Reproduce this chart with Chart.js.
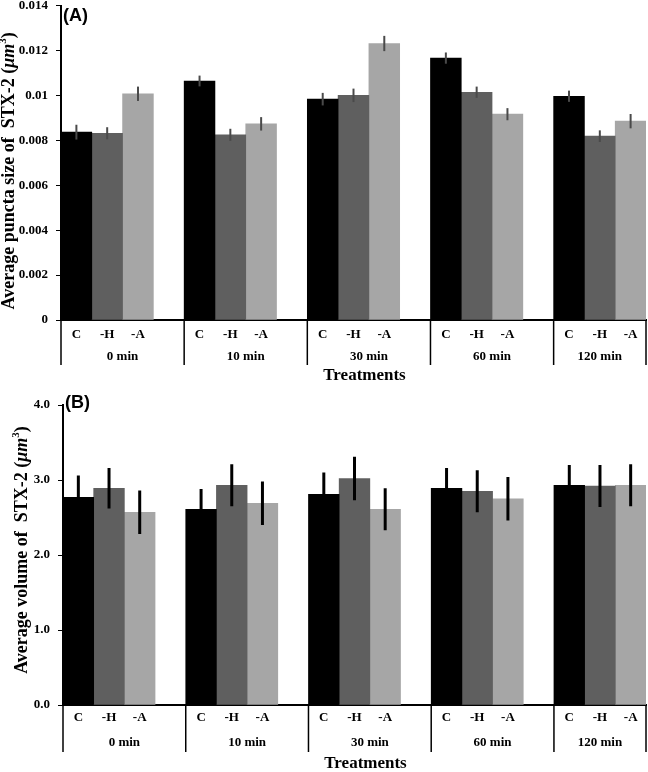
<!DOCTYPE html>
<html>
<head>
<meta charset="utf-8">
<script src="https://cdn.jsdelivr.net/npm/chart.js@4.4.1/dist/chart.umd.min.js"></script>
<style>
  body { margin: 0; background: #fff; overflow: hidden; }
  #wrap { position: relative; width: 648px; height: 772px; overflow: hidden; }
  canvas { position: absolute; left: 0; }
</style>
</head>
<body>
<div id="wrap">
  <canvas id="puncta_chart" style="top:-10px"></canvas>
  <canvas id="volume_chart" style="top:386px"></canvas>
</div>
<script>
// categories
const timePoints = ['0 min', '10 min', '30 min', '60 min', '120 min'];
const treatments = ['C', '-H', '-A'];
const barColors = ['#000000', '#5f5f5f', '#a6a6a6'];

// (A) average puncta size (um^3)
const sizeC = [0.00837, 0.01065, 0.00984, 0.01167, 0.00997];
const sizeH = [0.00832, 0.00825, 0.01001, 0.01015, 0.00819];
const sizeA = [0.01008, 0.00874, 0.01232, 0.00917, 0.00886];
const sizeErrC = [0.00033, 0.00024, 0.00028, 0.00025, 0.00025];
const sizeErrH = [0.00027, 0.00027, 0.00030, 0.00025, 0.00026];
const sizeErrA = [0.00032, 0.00030, 0.00034, 0.00027, 0.00032];

// (B) average volume (um^3)
const volC = [2.77, 2.61, 2.81, 2.89, 2.93];
const volH = [2.89, 2.93, 3.02, 2.85, 2.92];
const volA = [2.57, 2.69, 2.61, 2.75, 2.93];
const volErrC = [0.29, 0.27, 0.29, 0.27, 0.27];
const volErrH = [0.27, 0.28, 0.29, 0.28, 0.28];
const volErrA = [0.29, 0.29, 0.28, 0.29, 0.28];

// x slots: 3 bars per time point plus an empty spacer between groups
const slotLabels = [];
const slotOf = []; // slotOf[g][t] -> slot index
timePoints.forEach((tp, g) => {
  slotOf.push([]);
  treatments.forEach(t => { slotOf[g].push(slotLabels.length); slotLabels.push(t); });
  if (g < timePoints.length - 1) slotLabels.push('');
});

function seriesSlots(values, t) {
  const out = slotLabels.map(() => null);
  values.forEach((v, g) => { out[slotOf[g][t]] = v; });
  return out;
}

const serif = 'Liberation Serif';

// error bars drawn from each bar element + the y scale
const errorBars = {
  id: 'errorBars',
  afterDatasetsDraw(chart, args, opts) {
    const ctx = chart.ctx, y = chart.scales.y;
    ctx.save();
    ctx.strokeStyle = opts.color;
    ctx.lineWidth = opts.width;
    chart.data.datasets.forEach((ds, di) => {
      const meta = chart.getDatasetMeta(di);
      ds.data.forEach((v, i) => {
        if (v === null) return;
        const g = slotOf.findIndex(s => s[di] === i);
        const e = opts.errors[di][g];
        const x = meta.data[i].x;
        ctx.beginPath();
        ctx.moveTo(x, y.getPixelForValue(v - e));
        ctx.lineTo(x, y.getPixelForValue(v + e));
        ctx.stroke();
      });
    });
    ctx.restore();
  }
};

// two-level category axis, rotated y title, panel letter
const panelText = {
  id: 'panelText',
  afterDraw(chart, args, opts) {
    const ctx = chart.ctx, x = chart.scales.x, area = chart.chartArea;
    const half = (x.getPixelForValue(1) - x.getPixelForValue(0)) / 2;
    const bottom = area.bottom;
    ctx.save();
    ctx.fillStyle = '#000';
    ctx.strokeStyle = '#000';
    ctx.lineWidth = 1.5;
    ctx.textAlign = 'center';
    ctx.textBaseline = 'middle';
    const bounds = [];
    timePoints.forEach((tp, g) => {
      const left = x.getPixelForValue(slotOf[g][0]) - half;
      const lastSlot = g < timePoints.length - 1 ? slotOf[g][2] + 1 : slotOf[g][2];
      const right = x.getPixelForValue(lastSlot) + half;
      bounds.push(left);
      if (g === timePoints.length - 1) bounds.push(right);
      ctx.font = 'bold 13px ' + serif;
      treatments.forEach((t, i) => {
        ctx.fillText(t, x.getPixelForValue(slotOf[g][i]), bottom + opts.subY);
      });
      ctx.fillText(tp, (left + right) / 2, bottom + opts.groupY);
    });
    bounds.forEach(b => {
      ctx.beginPath();
      ctx.moveTo(b, bottom);
      ctx.lineTo(b, bottom + opts.sepLen);
      ctx.stroke();
    });
    ctx.font = 'bold 17px ' + serif;
    ctx.fillText('Treatments', (area.left + area.right) / 2 + 11, bottom + opts.titleY);

    // y title with italic unit and superscript
    const parts = [
      { t: opts.yTitle, f: 'bold 18px ' + serif, dy: 0 },
      { t: 'μm', f: 'italic bold 18px ' + serif, dy: 0 },
      { t: '3', f: 'bold 11px ' + serif, dy: -8 },
      { t: ')', f: 'bold 18px ' + serif, dy: 0 }
    ];
    let total = 0;
    parts.forEach(p => { ctx.font = p.f; p.w = ctx.measureText(p.t).width; total += p.w; });
    ctx.translate(opts.yTitleX, (area.top + area.bottom) / 2 + opts.yTitleShift);
    ctx.rotate(-Math.PI / 2);
    ctx.textAlign = 'left';
    ctx.textBaseline = 'alphabetic';
    let cx = -total / 2;
    parts.forEach(p => { ctx.font = p.f; ctx.fillText(p.t, cx, p.dy); cx += p.w; });
    ctx.restore();

    ctx.save();
    ctx.font = 'bold 18px Liberation Sans';
    ctx.fillStyle = '#000';
    ctx.textAlign = 'left';
    ctx.textBaseline = 'middle';
    ctx.fillText(opts.letter, area.left + 2, area.top + opts.letterDy);
    ctx.restore();
  }
};

function makeChart(id, height, series, errors, yOpts, axisW, axisH, padTop, text, errStyle) {
  const canvas = document.getElementById(id);
  canvas.width = 648;
  canvas.height = height;
  return new Chart(canvas.getContext('2d'), {
    type: 'bar',
    data: {
      labels: slotLabels,
      datasets: treatments.map((t, i) => ({
        label: t,
        data: seriesSlots(series[i], i),
        backgroundColor: barColors[i],
        borderWidth: 0,
        grouped: false,
        barPercentage: 1,
        categoryPercentage: 1
      }))
    },
    options: {
      responsive: false,
      animation: false,
      devicePixelRatio: 1,
      layout: { padding: { top: padTop, right: 2, left: 0, bottom: 0 } },
      plugins: {
        legend: { display: false },
        tooltip: { enabled: false },
        errorBars: { errors: errors, color: errStyle.color, width: errStyle.width },
        panelText: text
      },
      scales: {
        x: {
          type: 'category',
          offset: true,
          ticks: { display: false },
          grid: { display: false },
          border: { display: true, color: '#000', width: 2 },
          afterFit: s => { s.height = axisH; }
        },
        y: Object.assign({
          grid: { display: true, drawOnChartArea: false, drawTicks: true, tickLength: 5, color: '#000' },
          border: { display: true, color: '#000', width: 2 },
          afterFit: s => { s.width = axisW; }
        }, yOpts)
      }
    },
    plugins: [errorBars, panelText]
  });
}

const tickFont = { family: serif, weight: 'bold', size: 13 };

makeChart('puncta_chart', 396, [sizeC, sizeH, sizeA], [sizeErrC, sizeErrH, sizeErrA], {
  min: 0, max: 0.014,
  ticks: { stepSize: 0.002, font: tickFont, color: '#000', padding: 8,
           callback: v => String(+v.toFixed(3)) }
}, 61, 66, 5, {
  subY: 15, groupY: 37, sepLen: 45, titleY: 56,
  yTitle: 'Average puncta size of  STX-2 (', yTitleX: 14, yTitleShift: 8,
  letter: '(A)', letterDy: 10
}, { color: '#4a4a4a', width: 2 });

makeChart('volume_chart', 386, [volC, volH, volA], [volErrC, volErrH, volErrA], {
  min: 0, max: 4,
  ticks: { stepSize: 1, font: tickFont, color: '#000', padding: 8,
           callback: v => v.toFixed(1) }
}, 63, 67, 19, {
  subY: 13, groupY: 38, sepLen: 47, titleY: 59,
  yTitle: 'Average volume of  STX-2 (', yTitleX: 27, yTitleShift: -5,
  letter: '(B)', letterDy: -2
}, { color: '#000', width: 3 });
</script>
</body>
</html>
